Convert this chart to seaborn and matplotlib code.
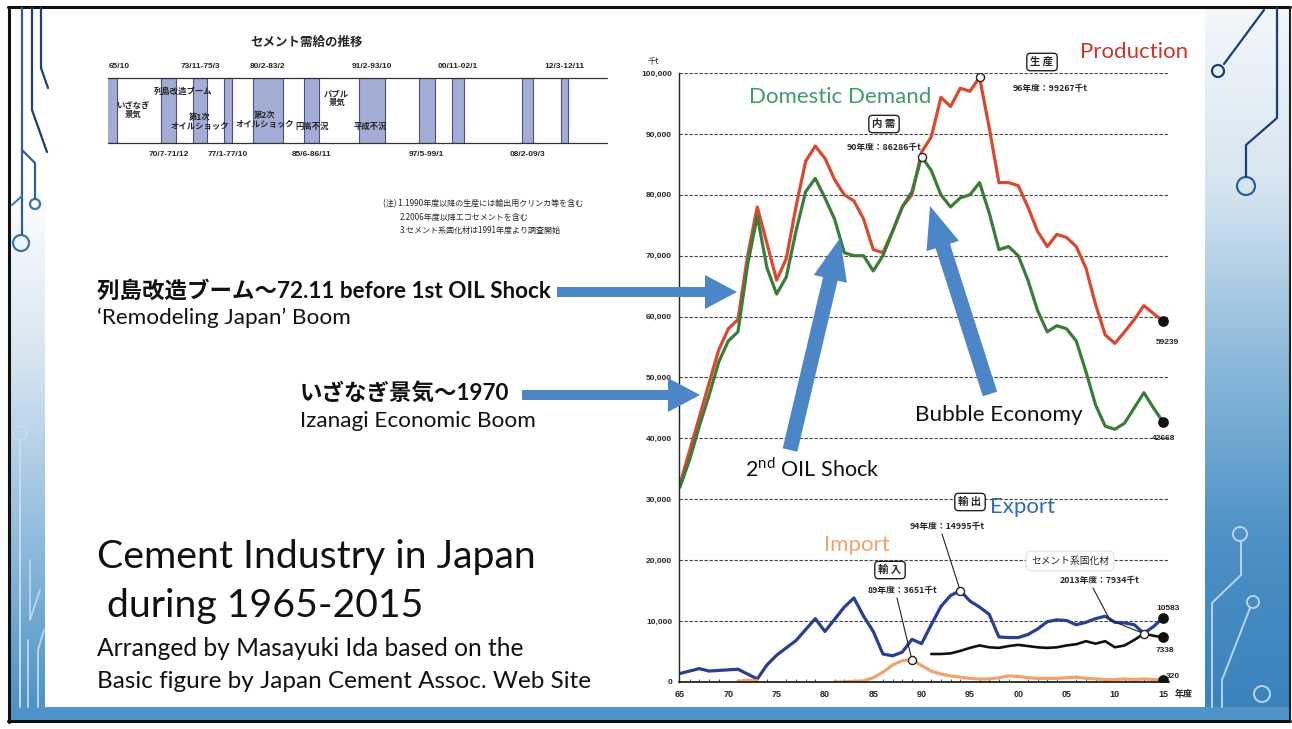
import numpy as np
import pandas as pd
import seaborn as sns
import matplotlib.pyplot as plt
from matplotlib.patches import FancyArrow, Circle
from matplotlib.colors import LinearSegmentedColormap
from matplotlib.ticker import FuncFormatter, MultipleLocator

### data (thousand tonnes, fiscal years)
years = list(range(1965, 2016))
production = [32500, 38000, 43500, 49000, 54500, 58000, 59500, 70000, 78000, 72000,
              66000, 69500, 78000, 85500, 88000, 86000, 82500, 80000, 79000, 76000,
              71000, 70500, 74000, 78000, 80000, 87000, 89500, 96000, 94500, 97500,
              97000, 99267, 91000, 82000, 82000, 81500, 78000, 74000, 71500, 73500,
              73000, 71500, 68000, 62000, 57000, 55600, 57500, 59500, 61800, 60500,
              59239]
demand = [32000, 36500, 42000, 47000, 52500, 56000, 57500, 68500, 76500, 68000,
          63700, 66500, 74000, 80500, 82700, 79500, 76000, 70500, 70000, 70000,
          67500, 70000, 74000, 78000, 80500, 86286, 84000, 80000, 78000, 79500,
          80000, 82000, 77000, 71000, 71500, 70000, 66000, 61000, 57500, 58500,
          58000, 56000, 51000, 45500, 42000, 41500, 42500, 45000, 47500, 45000,
          42668]
export = [1400, 1800, 2200, 1800, 1900, 2000, 2100, 1300, 500, 2800,
          4400, 5600, 6800, 8600, 10400, 8300, 10300, 12300, 13800, 10800,
          8300, 4600, 4300, 4900, 7000, 6300, 9400, 12400, 14200, 14995,
          13300, 12300, 11100, 7400, 7300, 7300, 7800, 8700, 9900, 10200,
          10100, 9400, 9800, 10400, 10800, 9800, 9700, 9400, 8000, 9100,
          10583]
nan = np.nan
imports = [nan, nan, nan, nan, nan, nan, 100, 300, 200, nan,
           nan, nan, nan, nan, nan, nan, 0, 0, 100, 200,
           700, 1600, 2800, 3500, 3651, 2700, 1800, 1300, 1000, 800,
           600, 500, 500, 700, 1000, 900, 700, 600, 600, 600,
           700, 800, 600, 500, 400, 400, 500, 400, 500, 400,
           320]
solidifier = [nan] * 26 + [4600, 4600, 4700, 5100, 5600, 6000, 5700, 5600, 5900,
                           6100, 5900, 5700, 5600, 5700, 6000, 6200, 6700, 6300, 6700,
                           5700, 6000, 6900, 7934, 7600, 7338]

# recession periods for the small timeline (yy/m)
band_start = ["64/10", "70/7", "73/11", "77/1", "80/2", "85/6", "91/2", "97/5", "00/11", "08/2", "12/3"]
band_end = ["65/10", "71/12", "75/3", "77/10", "83/2", "86/11", "93/10", "99/1", "02/1", "09/3", "12/11"]
band_label = ["65/10", "70/7-71/12", "73/11-75/3", "77/1-77/10", "80/2-83/2", "85/6-86/11",
              "91/2-93/10", "97/5-99/1", "00/11-02/1", "08/2-09/3", "12/3-12/11"]
band_side = ["top", "bottom", "top", "bottom", "top", "bottom", "top", "bottom", "top", "bottom", "top"]
phase_text = ["いざなぎ\n景気", "列島改造ブーム", "第1次\nオイルショック", "第2次\nオイルショック",
              "円高不況", "バブル\n景気", "平成不況"]
phase_year = [1967.5, 1972.8, 1974.5, 1981.3, 1986.2, 1988.8, 1992.3]
phase_ypos = [0.51, 0.79, 0.33, 0.35, 0.25, 0.69, 0.25]


def ym(s, end=False):
    y, m = s.split("/")
    y = int(y)
    y = 1900 + y if y >= 60 else 2000 + y
    return y + (int(m) - (0 if end else 1)) / 12


sns.set_theme(style="white")
plt.rcParams['font.family'] = ['Lato', 'Noto Sans CJK JP', 'DejaVu Sans']
plt.rcParams['mathtext.fontset'] = 'custom'
plt.rcParams['mathtext.rm'] = 'Lato'
JP = ['Noto Sans CJK JP', 'DejaVu Sans']
NUM = ['Liberation Sans', 'Noto Sans CJK JP']

W, H = 1292, 729
fig = plt.figure(figsize=(W / 100, H / 100), dpi=100)
fig.patch.set_facecolor('white')

## slide background
bg = fig.add_axes([0, 0, 1, 1], zorder=0)
bg.axis('off')
grad = np.linspace(0, 1, 256).reshape(-1, 1)
cm_left = LinearSegmentedColormap.from_list('l', ['#ffffff', '#ffffff', '#d5e4f0', '#8fbbdc', '#4a8fc4'])
cm_right = LinearSegmentedColormap.from_list('r', ['#f3f7fa', '#d6e5f0', '#8ab8da', '#4b90c6', '#3a82bd'])
bg.imshow(grad, extent=[10, 45, 720, 8], cmap=cm_left, aspect='auto')
bg.imshow(grad, extent=[1205, 1290, 720, 8], cmap=cm_right, aspect='auto')
bg.fill_between([10, 1290], 707, 720, color='#4f93c8', lw=0)
bg.plot([8, 1290], [7, 7], color='#111', lw=2.2)
bg.plot([9, 9], [7, 722], color='#111', lw=2.2)
bg.plot([8, 1290], [721, 721], color='#111', lw=2.2)
bg.plot([1290, 1290], [7, 722], color='#222', lw=1.5)
# circuit traces
navy = '#1f3d78'
bg.plot([22, 22], [8, 234], color='#2f5f95', lw=1.6)
bg.add_patch(Circle((21, 243), 8, fill=False, ec='#3f74a6', lw=1.6))
bg.plot([32, 32, 47], [8, 110, 152], color=navy, lw=1.6)
bg.plot([41, 41, 48], [8, 68, 88], color=navy, lw=1.6)
bg.plot([22, 35, 35], [150, 163, 199], color='#2f5f95', lw=1.6)
bg.add_patch(Circle((35, 204), 5, fill=False, ec='#3f74a6', lw=1.6))
bg.plot([22, 12], [196, 205], color='#3f74a6', lw=1.4)
bg.plot([1264, 1224], [10, 64], color=navy, lw=1.6)
bg.add_patch(Circle((1218, 71), 6, fill=False, ec=navy, lw=1.6))
bg.plot([1277, 1277, 1246, 1246], [8, 118, 145, 177], color=navy, lw=1.6)
bg.add_patch(Circle((1246, 186), 9, fill=False, ec='#2f5f95', lw=1.6))
light = '#b5d5ec'
bg.add_patch(Circle((1240, 534), 7, fill=False, ec=light, lw=1.4))
bg.plot([1241, 1241, 1212, 1212], [541, 575, 603, 707], color=light, lw=1.4)
bg.add_patch(Circle((1253, 602), 6, fill=False, ec=light, lw=1.4))
bg.plot([1250, 1222, 1222], [608, 680, 707], color=light, lw=1.4)
bg.add_patch(Circle((1262, 694), 8, fill=False, ec=light, lw=1.4))
bg.add_patch(Circle((20, 433), 7, fill=False, ec='#c8dced', lw=1.4))
bg.plot([20, 20], [440, 707], color='#c8dced', lw=1.4)
bg.plot([30, 30, 40], [560, 620, 590], color=light, lw=1.4)
bg.plot([28, 28], [640, 707], color=light, lw=1.4)
bg.plot([38, 38, 44], [707, 650, 630], color=light, lw=1.4)
bg.set_xlim(0, W)
bg.set_ylim(H, 0)

## small timeline (top left)
tl = fig.add_axes([108 / W, 1 - 143 / H, 499 / W, 65 / H], zorder=2)
tl.set_xlim(1964.93, 2017.0)
tl.set_ylim(0, 1)
tl.set_xticks([])
tl.set_yticks([])
for s in ['left', 'right']:
    tl.spines[s].set_visible(False)
for s in ['top', 'bottom']:
    tl.spines[s].set_linestyle((0, (3, 1)))
    tl.spines[s].set_color('#333')
    tl.spines[s].set_linewidth(0.9)
for a, b, lab, side in zip(band_start, band_end, band_label, band_side):
    x0, x1 = ym(a), ym(b, end=True)
    tl.axvspan(x0, x1, fc='#a3acd5', ec='#46518c', lw=0.8)
    yy, va = (1.12, 'bottom') if side == 'top' else (-0.12, 'top')
    xc, ha = ((x0 + x1) / 2, 'center') if lab != "65/10" else (1965.0, 'left')
    tl.text(xc, yy, lab, ha=ha, va=va, fontsize=6, fontweight='bold', family=NUM)
for t, x, y in zip(phase_text, phase_year, phase_ypos):
    tl.text(x, y, t, ha='center', va='center', fontsize=6, fontweight='bold', family=JP,
            linespacing=1.0)
fig.text(307 / W, 1 - 42 / H, "セメント需給の推移", ha='center', va='center',
         fontsize=9, fontweight='bold', family=JP)
fig.text(383 / W, 1 - 204 / H, "(注) 1.1990年度以降の生産には輸出用クリンカ等を含む",
         fontsize=5.8, family=JP, va='center')
fig.text(400 / W, 1 - 217 / H, "2.2006年度以降エコセメントを含む",
         fontsize=5.8, family=JP, va='center')
fig.text(400 / W, 1 - 230 / H, "3.セメント系固化材は1991年度より調査開始",
         fontsize=5.8, family=JP, va='center')

## main chart
ax = fig.add_axes([679 / W, 1 - 682 / H, 490 / W, 609 / H], zorder=2)
ax.patch.set_alpha(0)


def draw(series, color, lw=2.3):
    df = pd.DataFrame({'year': years, 'val': series})
    df['seg'] = df['val'].isna().cumsum()
    df = df.dropna()
    for _, g in df.groupby('seg'):
        sns.lineplot(data=g, x='year', y='val', ax=ax, color=color, lw=lw)


draw(production, '#d9482f')
draw(demand, '#3a7d39')
draw(export, '#283f92')
draw(imports, '#f2a36c')
draw(solidifier, '#111111', lw=1.9)

ax.set_xlim(1964.9, 2015.6)
ax.set_ylim(0, 100000)
ax.set_xlabel('')
ax.set_ylabel('')
ax.yaxis.set_major_locator(MultipleLocator(10000))
ax.yaxis.set_major_formatter(FuncFormatter(lambda v, p: f"{int(v):,}"))
ax.set_xticks(list(range(1965, 2016, 5)))
ax.set_xticklabels([f"{y % 100:02d}" for y in range(1965, 2016, 5)])
ax.xaxis.set_minor_locator(MultipleLocator(1))
ax.tick_params(axis='y', labelsize=6, pad=5, length=0)
ax.tick_params(axis='x', which='major', labelsize=6.5, pad=6, direction='in', length=4, width=0.8)
ax.tick_params(axis='x', which='minor', direction='in', length=2.5, width=0.6, bottom=True)
for lab in ax.get_xticklabels() + ax.get_yticklabels():
    lab.set_family(NUM)
    lab.set_fontweight('bold')
ax.yaxis.grid(True, ls=(0, (3, 1.5)), color='#444', lw=0.8)
ax.spines['top'].set_visible(False)
ax.spines['right'].set_visible(False)
ax.spines['left'].set_color('#222')
ax.spines['bottom'].set_color('#111')
ax.spines['left'].set_linewidth(1.0)
ax.spines['bottom'].set_linewidth(1.2)

# highlighted points
peaks = [(years[31], production[31]), (years[25], demand[25]), (years[29], export[29]),
         (years[24], imports[24]), (years[48], solidifier[48])]
ax.scatter([p[0] for p in peaks], [p[1] for p in peaks], s=34, facecolor='white',
           edgecolor='#222', lw=1.0, zorder=5)
ends = [production[-1], demand[-1], export[-1], solidifier[-1], imports[-1]]
ax.scatter([years[-1]] * len(ends), ends, s=45, color='#111', zorder=5)

## overlay: annotations, arrows, slide text
fg = fig.add_axes([0, 0, 1, 1], zorder=5)
fg.axis('off')
fg.patch.set_alpha(0)
fg.set_xlim(0, W)
fg.set_ylim(H, 0)

fg.text(653, 61, "千t", fontsize=6, family=JP, ha='center', va='center')
fg.text(1184, 694, "年度", fontsize=6.5, family=JP, fontweight='bold', ha='center', va='center')

box = dict(boxstyle='round,pad=0.35', fc='white', ec='#222', lw=1.0)
small = dict(fontsize=6.3, family=JP, fontweight='bold', ha='center', va='center')
fg.text(1042, 62, "生 産", bbox=box, **{**small, 'fontsize': 7.5})
fg.text(1050, 88, "96年度：99267千t", **small)
fg.text(884, 124, "内 需", bbox=box, **{**small, 'fontsize': 7.5})
fg.text(884, 147, "90年度：86286千t", **small)
fg.text(970, 502, "輸 出", bbox=box, **{**small, 'fontsize': 7.5})
fg.text(947, 527, "94年度：14995千t", **small)
fg.text(890, 570, "輸 入", bbox=box, **{**small, 'fontsize': 7.5})
fg.text(902, 591, "89年度：3651千t", **small)
fg.text(1070, 561, "セメント系固化材", bbox=dict(boxstyle='round,pad=0.5', fc='white', ec='#e2e2e2', lw=0.8),
        **{**small, 'fontweight': 'normal', 'fontsize': 7})
fg.text(1100, 580, "2013年度：7934千t", **small)
for txt, x, y in [("59239", 1167, 342), ("42668", 1164, 438), ("10583", 1168, 608),
                  ("7338", 1165, 650), ("320", 1173, 677)]:
    fg.text(x, y, txt, fontsize=6, family=NUM, fontweight='bold', ha='center', va='center')

lead = dict(arrowstyle='-', lw=0.8, color='#222', shrinkA=0, shrinkB=3)
ax.annotate('', xy=(years[29], export[29]), xytext=(942, 534), textcoords=fg.transData, arrowprops=lead)
ax.annotate('', xy=(years[24], imports[24]), xytext=(897, 598), textcoords=fg.transData, arrowprops=lead)
fg.plot([1093, 1110], [588, 620], color='#222', lw=0.8)
ax.annotate('', xy=(years[48], solidifier[48]), xytext=(1110, 620), textcoords=fg.transData, arrowprops=lead)

fg.text(1134, 52, "Production", color='#c9362a', fontsize=16, ha='center', va='center')
fg.text(840, 97, "Domestic Demand", color='#3f9a6c', fontsize=16, ha='center', va='center')
fg.text(1023, 507, "Export", color='#2e6db5', fontsize=16, ha='center', va='center')
fg.text(857, 545, "Import", color='#f0a56e', fontsize=16, ha='center', va='center')

# big arrows
acol = '#4d86c6'
fg.add_patch(FancyArrow(557, 292, 180, 0, width=10, head_width=34, head_length=32,
                        length_includes_head=True, color=acol, lw=0))
fg.add_patch(FancyArrow(522, 395, 178, 0, width=10, head_width=34, head_length=32,
                        length_includes_head=True, color=acol, lw=0))
fg.add_patch(FancyArrow(790, 450, 50, -212, width=15, head_width=34, head_length=42,
                        length_includes_head=True, color=acol, lw=0))
fg.add_patch(FancyArrow(990, 394, -60, -188, width=15, head_width=34, head_length=42,
                        length_includes_head=True, color=acol, lw=0))

lt = dict(fontsize=16.2, color='#111', va='center')
fg.text(97, 291, "列島改造ブーム～72.11 before 1st OIL Shock", fontweight='bold', **lt)
fg.text(97, 318, "‘Remodeling Japan’ Boom", **lt)
fg.text(300, 393, "いざなぎ景気～1970", fontweight='bold', **lt)
fg.text(300, 421, "Izanagi Economic Boom", **lt)
fg.text(915, 415, "Bubble Economy", **lt)
fg.text(745, 469, r"2$^{\mathrm{nd}}$ OIL Shock", **{**lt, 'fontsize': 15.5})

fg.text(97, 557, "Cement Industry in Japan", fontsize=28.3, color='#111', va='center')
fg.text(97, 606, " during 1965-2015", fontsize=28.3, color='#111', va='center')
fg.text(97, 648, "Arranged by Masayuki Ida based on the", fontsize=17.7, color='#111', va='center')
fg.text(97, 681, "Basic figure by Japan Cement Assoc. Web Site", fontsize=17.5, color='#111', va='center')

fig.savefig("out.png", dpi=100)
